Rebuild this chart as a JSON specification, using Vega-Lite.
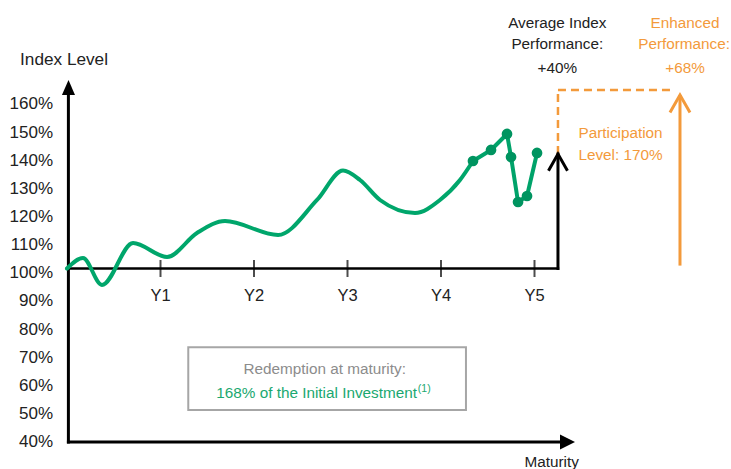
{
  "$schema": "https://vega.github.io/schema/vega-lite/v6.json",
  "width": 664,
  "height": 469,
  "autosize": {"type": "none"},
  "padding": {"left": 67, "top": 0, "right": 0, "bottom": 0},
  "background": "white",
  "config": {"view": {"stroke": null}, "text": {"font": "Liberation Sans"}},
  "datasets": {
    "path": [
      {"year": 0, "level": 100},
      {"year": 0.171, "level": 103.63},
      {"year": 0.374, "level": 94.29},
      {"year": 0.706, "level": 108.82},
      {"year": 1.07, "level": 103.98},
      {"year": 1.39, "level": 112.28},
      {"year": 1.69, "level": 116.42},
      {"year": 2.257, "level": 111.58},
      {"year": 2.674, "level": 123.69},
      {"year": 2.952, "level": 133.89},
      {"year": 3.134, "level": 130.6},
      {"year": 3.348, "level": 123.69},
      {"year": 3.722, "level": 119.19},
      {"year": 3.989, "level": 123.69},
      {"year": 4.203, "level": 130.6},
      {"year": 4.342, "level": 137.17}
    ],
    "fixings": [
      {"year": 4.342, "level": 137.17},
      {"year": 4.535, "level": 140.98},
      {"year": 4.706, "level": 146.51},
      {"year": 4.749, "level": 138.55},
      {"year": 4.824, "level": 122.99},
      {"year": 4.92, "level": 125.07},
      {"year": 5.027, "level": 139.94}
    ],
    "xticks": [
      {"year": 1, "label": "Y1"},
      {"year": 2, "label": "Y2"},
      {"year": 3, "label": "Y3"},
      {"year": 4, "label": "Y4"},
      {"year": 5, "label": "Y5"}
    ],
    "ylabels": [
      {"level": 160, "label": "160%"},
      {"level": 150, "label": "150%"},
      {"level": 140, "label": "140%"},
      {"level": 130, "label": "130%"},
      {"level": 120, "label": "120%"},
      {"level": 110, "label": "110%"},
      {"level": 100, "label": "100%"},
      {"level": 90, "label": "90%"},
      {"level": 80, "label": "80%"},
      {"level": 70, "label": "70%"},
      {"level": 60, "label": "60%"},
      {"level": 50, "label": "50%"},
      {"level": 40, "label": "40%"}
    ],
    "guides": [
      {"part": "box", "x": 1.297, "x2": 4.267, "y": 51.07, "y2": 72.75},
      {"part": "axis", "x": 0.015, "x2": 0.015, "y": 40, "y2": 160},
      {"part": "axis", "x": 0.015, "x2": 5.28, "y": 40, "y2": 40},
      {"part": "baseline", "x": 0, "x2": 5.251, "y": 100, "y2": 100},
      {"part": "average", "x": 5.251, "x2": 5.251, "y": 100, "y2": 139.6},
      {"part": "participation", "x": 5.251, "x2": 5.251, "y": 139.6, "y2": 161.7},
      {"part": "participation", "x": 5.251, "x2": 6.481, "y": 161.7, "y2": 161.7},
      {"part": "enhanced", "x": 6.556, "x2": 6.556, "y": 101, "y2": 160}
    ],
    "heads": [
      {"part": "yaxis", "x": 0.016, "y": 162.59},
      {"part": "xaxis", "x": 5.353, "y": 40},
      {"part": "average", "x": 5.251, "y": 136.69},
      {"part": "enhanced", "x": 6.556, "y": 156.95}
    ],
    "notes": [
      {"role": "center", "x": 5.244, "y": 184.99, "text": "Average Index", "tone": "index"},
      {"role": "center", "x": 5.244, "y": 177.52, "text": "Performance:", "tone": "index"},
      {"role": "center", "x": 5.244, "y": 169.43, "text": "+40%", "tone": "index"},
      {"role": "center", "x": 6.61, "y": 184.99, "text": "Enhanced", "tone": "enhanced"},
      {"role": "center", "x": 6.6, "y": 177.52, "text": "Performance:", "tone": "enhanced"},
      {"role": "center", "x": 6.61, "y": 169.43, "text": "+68%", "tone": "enhanced"},
      {"role": "center", "x": 5.92, "y": 146.96, "text": "Participation", "tone": "enhanced"},
      {"role": "center", "x": 5.92, "y": 139.25, "text": "Level: 170%", "tone": "enhanced"},
      {"role": "center", "x": 2.756, "y": 65.15, "text": "Redemption at maturity:", "tone": "muted"},
      {"role": "center", "x": 5.184, "y": 33.2, "text": "Maturity", "tone": "index"},
      {"role": "right", "x": 3.743, "y": 57.05, "text": "168% of the Initial Investment", "tone": "redeem"},
      {"role": "sup", "x": 3.752, "y": 58.5, "text": "(1)", "tone": "redeem"},
      {"role": "title", "x": -0.032, "y": 172.16, "text": "Index Level", "tone": "index"}
    ]
  },
  "layer": [
    {
      "layer": [
        {
          "data": {"name": "guides"},
          "transform": [{"filter": "datum.part === 'box'"}],
          "mark": {"type": "rect", "fill": "#ffffff", "stroke": "#a6a6a6", "strokeWidth": 2},
          "encoding": {
            "x": {"field": "x", "type": "quantitative", "scale": {"domain": [0, 7.1016], "nice": false, "zero": false}, "axis": null},
            "x2": {"field": "x2"},
            "y": {"field": "y", "type": "quantitative", "scale": {"domain": [30.67, 192.84], "nice": false, "zero": false}, "axis": null},
            "y2": {"field": "y2"}
          }
        },
        {
          "data": {"name": "guides"},
          "transform": [{"filter": "datum.part === 'axis' || datum.part === 'average'"}],
          "mark": {"type": "rule", "color": "#000000", "strokeWidth": 3, "strokeCap": "square"},
          "encoding": {
            "x": {"field": "x", "type": "quantitative", "scale": {"domain": [0, 7.1016], "nice": false, "zero": false}, "axis": null},
            "x2": {"field": "x2"},
            "y": {"field": "y", "type": "quantitative", "scale": {"domain": [30.67, 192.84], "nice": false, "zero": false}, "axis": null},
            "y2": {"field": "y2"}
          }
        },
        {
          "data": {"name": "guides"},
          "transform": [{"filter": "datum.part === 'baseline'"}],
          "mark": {"type": "rule", "color": "#000000", "strokeWidth": 2.5, "strokeCap": "square"},
          "encoding": {
            "x": {"field": "x", "type": "quantitative", "scale": {"domain": [0, 7.1016], "nice": false, "zero": false}, "axis": null},
            "x2": {"field": "x2"},
            "y": {"field": "y", "type": "quantitative", "scale": {"domain": [30.67, 192.84], "nice": false, "zero": false}, "axis": null},
            "y2": {"field": "y2"}
          }
        },
        {
          "data": {"name": "guides"},
          "transform": [{"filter": "datum.part === 'participation'"}],
          "mark": {"type": "rule", "color": "#f39a3b", "strokeWidth": 2.5, "strokeDash": [8, 5]},
          "encoding": {
            "x": {"field": "x", "type": "quantitative", "scale": {"domain": [0, 7.1016], "nice": false, "zero": false}, "axis": null},
            "x2": {"field": "x2"},
            "y": {"field": "y", "type": "quantitative", "scale": {"domain": [30.67, 192.84], "nice": false, "zero": false}, "axis": null},
            "y2": {"field": "y2"}
          }
        },
        {
          "data": {"name": "guides"},
          "transform": [{"filter": "datum.part === 'enhanced'"}],
          "mark": {"type": "rule", "color": "#f39a3b", "strokeWidth": 3},
          "encoding": {
            "x": {"field": "x", "type": "quantitative", "scale": {"domain": [0, 7.1016], "nice": false, "zero": false}, "axis": null},
            "x2": {"field": "x2"},
            "y": {"field": "y", "type": "quantitative", "scale": {"domain": [30.67, 192.84], "nice": false, "zero": false}, "axis": null},
            "y2": {"field": "y2"}
          }
        },
        {
          "data": {"name": "xticks"},
          "mark": {"type": "tick", "orient": "vertical", "color": "#000000", "size": 17, "thickness": 2},
          "encoding": {
            "x": {"field": "year", "type": "quantitative", "scale": {"domain": [0, 7.1016], "nice": false, "zero": false}, "axis": null},
            "y": {"datum": 100, "type": "quantitative", "scale": {"domain": [30.67, 192.84], "nice": false, "zero": false}, "axis": null}
          }
        },
        {
          "data": {"name": "xticks"},
          "mark": {"type": "text", "align": "center", "baseline": "middle", "dy": 28, "fontSize": 16.5, "color": "#222222"},
          "encoding": {
            "x": {"field": "year", "type": "quantitative", "scale": {"domain": [0, 7.1016], "nice": false, "zero": false}, "axis": null},
            "y": {"datum": 100, "type": "quantitative", "scale": {"domain": [30.67, 192.84], "nice": false, "zero": false}, "axis": null},
            "text": {"field": "label"}
          }
        },
        {
          "data": {"name": "path"},
          "mark": {"type": "line", "interpolate": "monotone", "color": "#00a66b", "strokeWidth": 4, "strokeCap": "round", "strokeJoin": "round"},
          "encoding": {
            "x": {"field": "year", "type": "quantitative", "scale": {"domain": [0, 7.1016], "nice": false, "zero": false}, "axis": null},
            "y": {"field": "level", "type": "quantitative", "scale": {"domain": [30.67, 192.84], "nice": false, "zero": false}, "axis": null}
          }
        },
        {
          "data": {"name": "fixings"},
          "mark": {"type": "line", "color": "#00a36a", "strokeWidth": 4, "strokeJoin": "round", "point": {"filled": true, "size": 115, "color": "#009460", "opacity": 1}},
          "encoding": {
            "x": {"field": "year", "type": "quantitative", "scale": {"domain": [0, 7.1016], "nice": false, "zero": false}, "axis": null},
            "y": {"field": "level", "type": "quantitative", "scale": {"domain": [30.67, 192.84], "nice": false, "zero": false}, "axis": null}
          }
        },
        {
          "data": {"name": "heads"},
          "transform": [{"filter": "datum.part === 'yaxis'"}],
          "mark": {"type": "point", "shape": "M0,-1L-0.87,1L0.87,1Z", "size": 225, "filled": true, "color": "#000000", "opacity": 1},
          "encoding": {
            "x": {"field": "x", "type": "quantitative", "scale": {"domain": [0, 7.1016], "nice": false, "zero": false}, "axis": null},
            "y": {"field": "y", "type": "quantitative", "scale": {"domain": [30.67, 192.84], "nice": false, "zero": false}, "axis": null}
          }
        },
        {
          "data": {"name": "heads"},
          "transform": [{"filter": "datum.part === 'xaxis'"}],
          "mark": {"type": "point", "shape": "M1,0L-1,-1L-1,1Z", "size": 225, "filled": true, "color": "#000000", "opacity": 1},
          "encoding": {
            "x": {"field": "x", "type": "quantitative", "scale": {"domain": [0, 7.1016], "nice": false, "zero": false}, "axis": null},
            "y": {"field": "y", "type": "quantitative", "scale": {"domain": [30.67, 192.84], "nice": false, "zero": false}, "axis": null}
          }
        },
        {
          "data": {"name": "heads"},
          "transform": [{"filter": "datum.part === 'average'"}],
          "mark": {"type": "point", "shape": "M-1,0.88L0,-0.88L1,0.88", "size": 361, "filled": false, "stroke": "#000000", "strokeWidth": 3, "opacity": 1},
          "encoding": {
            "x": {"field": "x", "type": "quantitative", "scale": {"domain": [0, 7.1016], "nice": false, "zero": false}, "axis": null},
            "y": {"field": "y", "type": "quantitative", "scale": {"domain": [30.67, 192.84], "nice": false, "zero": false}, "axis": null}
          }
        },
        {
          "data": {"name": "heads"},
          "transform": [{"filter": "datum.part === 'enhanced'"}],
          "mark": {"type": "point", "shape": "M-1,0.88L0,-0.88L1,0.88", "size": 400, "filled": false, "stroke": "#f39a3b", "strokeWidth": 3, "opacity": 1},
          "encoding": {
            "x": {"field": "x", "type": "quantitative", "scale": {"domain": [0, 7.1016], "nice": false, "zero": false}, "axis": null},
            "y": {"field": "y", "type": "quantitative", "scale": {"domain": [30.67, 192.84], "nice": false, "zero": false}, "axis": null}
          }
        },
        {
          "data": {"name": "notes"},
          "transform": [{"filter": "datum.role === 'center'"}],
          "mark": {"type": "text", "align": "center", "baseline": "middle", "fontSize": 15.3},
          "encoding": {
            "x": {"field": "x", "type": "quantitative", "scale": {"domain": [0, 7.1016], "nice": false, "zero": false}, "axis": null},
            "y": {"field": "y", "type": "quantitative", "scale": {"domain": [30.67, 192.84], "nice": false, "zero": false}, "axis": null},
            "text": {"field": "text"},
            "color": {"field": "tone", "type": "nominal", "scale": {"domain": ["index", "enhanced", "muted", "redeem"], "range": ["#222222", "#f39a3b", "#8c8c8c", "#1aa870"]}, "legend": null}
          }
        },
        {
          "data": {"name": "notes"},
          "transform": [{"filter": "datum.role === 'right'"}],
          "mark": {"type": "text", "align": "right", "baseline": "middle", "fontSize": 15.3, "color": "#1aa870"},
          "encoding": {
            "x": {"field": "x", "type": "quantitative", "scale": {"domain": [0, 7.1016], "nice": false, "zero": false}, "axis": null},
            "y": {"field": "y", "type": "quantitative", "scale": {"domain": [30.67, 192.84], "nice": false, "zero": false}, "axis": null},
            "text": {"field": "text"}
          }
        },
        {
          "data": {"name": "notes"},
          "transform": [{"filter": "datum.role === 'sup'"}],
          "mark": {"type": "text", "align": "left", "baseline": "middle", "fontSize": 10.5, "color": "#1aa870"},
          "encoding": {
            "x": {"field": "x", "type": "quantitative", "scale": {"domain": [0, 7.1016], "nice": false, "zero": false}, "axis": null},
            "y": {"field": "y", "type": "quantitative", "scale": {"domain": [30.67, 192.84], "nice": false, "zero": false}, "axis": null},
            "text": {"field": "text"}
          }
        },
        {
          "data": {"name": "notes"},
          "transform": [{"filter": "datum.role === 'title'"}],
          "mark": {"type": "text", "align": "center", "baseline": "middle", "fontSize": 17.2, "color": "#222222"},
          "encoding": {
            "x": {"field": "x", "type": "quantitative", "scale": {"domain": [0, 7.1016], "nice": false, "zero": false}, "axis": null},
            "y": {"field": "y", "type": "quantitative", "scale": {"domain": [30.67, 192.84], "nice": false, "zero": false}, "axis": null},
            "text": {"field": "text"}
          }
        }
      ]
    },
    {
      "data": {"name": "ylabels"},
      "mark": {"type": "text", "align": "right", "baseline": "middle", "dx": -14, "fontSize": 17, "color": "#222222"},
      "encoding": {
        "x": {"datum": 0, "type": "quantitative", "scale": {"domain": [0, 7.1016], "nice": false, "zero": false}, "axis": null},
        "y": {"field": "level", "type": "quantitative", "scale": {"domain": [30.44, 197.11], "nice": false, "zero": false}, "axis": null},
        "text": {"field": "label"}
      }
    }
  ],
  "resolve": {"scale": {"y": "independent"}}
}
